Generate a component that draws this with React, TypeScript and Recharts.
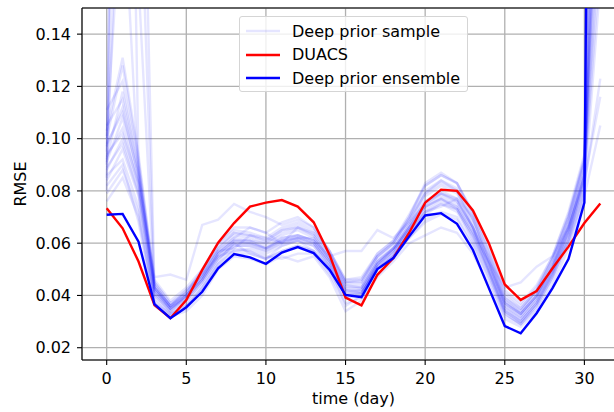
import { LineChart, Line, XAxis, YAxis, CartesianGrid, ReferenceLine } from "recharts";

const days = [0, 1, 2, 3, 4, 5, 6, 7, 8, 9, 10, 11, 12, 13, 14, 15, 16, 17, 18, 19, 20, 21, 22, 23, 24, 25, 26, 27, 28, 29, 30, 31];

const duacs = [0.0734, 0.0657, 0.053, 0.0363, 0.0313, 0.0382, 0.0498, 0.0602, 0.0677, 0.074, 0.0755, 0.0765, 0.074, 0.068, 0.0555, 0.0392, 0.0362, 0.0479, 0.0543, 0.064, 0.0755, 0.0805, 0.08, 0.0725, 0.06, 0.0442, 0.0383, 0.0417, 0.0504, 0.0587, 0.0677, 0.0752];

const ensemble = [0.0709, 0.0712, 0.0606, 0.0367, 0.0313, 0.0355, 0.0414, 0.0504, 0.0558, 0.0546, 0.0521, 0.0564, 0.0585, 0.0562, 0.0498, 0.0402, 0.0393, 0.0501, 0.0543, 0.0626, 0.0706, 0.0715, 0.0674, 0.0574, 0.0428, 0.0283, 0.0255, 0.0332, 0.0428, 0.0539, 0.0755, 0.8];

// individual deep prior runs
const s1 = [0.092, 0.118, 0.088, 0.042, 0.035, 0.040, 0.047, 0.057, 0.058, 0.063, 0.062, 0.060, 0.066, 0.063, 0.054, 0.043, 0.043, 0.053, 0.058, 0.067, 0.076, 0.080, 0.077, 0.066, 0.052, 0.037, 0.033, 0.040, 0.051, 0.066, 0.086, 0.180];
const s2 = [0.103, 0.131, 0.094, 0.045, 0.037, 0.041, 0.049, 0.058, 0.063, 0.062, 0.060, 0.064, 0.066, 0.063, 0.055, 0.044, 0.044, 0.054, 0.059, 0.068, 0.079, 0.083, 0.080, 0.069, 0.054, 0.038, 0.034, 0.041, 0.052, 0.068, 0.090, 0.250];
const s3 = [0.084, 0.096, 0.078, 0.039, 0.033, 0.037, 0.044, 0.053, 0.060, 0.056, 0.054, 0.059, 0.061, 0.057, 0.050, 0.040, 0.040, 0.050, 0.055, 0.064, 0.072, 0.075, 0.072, 0.062, 0.049, 0.034, 0.030, 0.037, 0.048, 0.063, 0.082, 0.123];
const s4 = [0.080, 0.600, 0.300, 0.043, 0.036, 0.040, 0.047, 0.056, 0.061, 0.060, 0.058, 0.061, 0.062, 0.060, 0.053, 0.042, 0.041, 0.051, 0.057, 0.066, 0.074, 0.078, 0.075, 0.065, 0.051, 0.036, 0.032, 0.039, 0.050, 0.065, 0.087, 0.400];
const s5 = [0.111, 0.122, 0.090, 0.044, 0.036, 0.042, 0.048, 0.059, 0.064, 0.063, 0.061, 0.065, 0.067, 0.064, 0.056, 0.045, 0.045, 0.055, 0.060, 0.069, 0.079, 0.084, 0.080, 0.066, 0.055, 0.039, 0.035, 0.042, 0.054, 0.070, 0.093, 0.300];
const s6 = [0.098, 0.110, 0.086, 0.047, 0.048, 0.046, 0.067, 0.069, 0.075, 0.072, 0.070, 0.067, 0.069, 0.066, 0.057, 0.046, 0.047, 0.056, 0.061, 0.070, 0.083, 0.087, 0.083, 0.071, 0.057, 0.042, 0.037, 0.044, 0.055, 0.072, 0.094, 0.220];
const s7 = [0.076, 0.085, 0.070, 0.037, 0.032, 0.035, 0.043, 0.052, 0.058, 0.057, 0.055, 0.054, 0.056, 0.056, 0.048, 0.037, 0.039, 0.048, 0.054, 0.062, 0.068, 0.071, 0.069, 0.059, 0.046, 0.032, 0.029, 0.035, 0.046, 0.060, 0.078, 0.105];
const s8 = [0.093, 0.104, 0.082, 0.041, 0.035, 0.039, 0.046, 0.055, 0.060, 0.060, 0.058, 0.061, 0.063, 0.061, 0.055, 0.057, 0.057, 0.065, 0.062, 0.068, 0.075, 0.079, 0.076, 0.066, 0.052, 0.037, 0.033, 0.040, 0.051, 0.066, 0.085, 0.170];
const s9 = [0.088, 0.100, 0.080, 0.040, 0.034, 0.038, 0.045, 0.054, 0.059, 0.059, 0.057, 0.060, 0.062, 0.060, 0.052, 0.041, 0.042, 0.051, 0.056, 0.065, 0.073, 0.077, 0.074, 0.064, 0.053, 0.043, 0.045, 0.051, 0.055, 0.066, 0.084, 0.116];
const s10 = [0.095, 0.450, 0.090, 0.043, 0.035, 0.040, 0.046, 0.056, 0.061, 0.061, 0.059, 0.062, 0.063, 0.061, 0.053, 0.042, 0.042, 0.052, 0.057, 0.066, 0.075, 0.079, 0.076, 0.066, 0.052, 0.036, 0.032, 0.039, 0.050, 0.065, 0.086, 0.500];
const s11 = [0.100, 0.128, 0.092, 0.046, 0.038, 0.043, 0.050, 0.060, 0.065, 0.064, 0.062, 0.066, 0.068, 0.065, 0.057, 0.046, 0.046, 0.056, 0.061, 0.071, 0.082, 0.086, 0.083, 0.072, 0.058, 0.041, 0.036, 0.043, 0.055, 0.071, 0.092, 0.210];
const s12 = [0.086, 0.092, 0.074, 0.038, 0.033, 0.036, 0.043, 0.052, 0.057, 0.057, 0.054, 0.057, 0.059, 0.057, 0.049, 0.039, 0.040, 0.052, 0.058, 0.066, 0.074, 0.077, 0.073, 0.061, 0.048, 0.033, 0.029, 0.036, 0.047, 0.061, 0.080, 0.160];
const s13 = [0.090, 0.350, 0.220, 0.042, 0.035, 0.039, 0.046, 0.055, 0.060, 0.060, 0.058, 0.061, 0.062, 0.060, 0.052, 0.041, 0.041, 0.051, 0.056, 0.065, 0.074, 0.077, 0.074, 0.064, 0.050, 0.035, 0.031, 0.038, 0.049, 0.064, 0.084, 0.350];
const s14 = [0.105, 0.115, 0.087, 0.044, 0.036, 0.041, 0.048, 0.057, 0.062, 0.066, 0.064, 0.060, 0.062, 0.062, 0.054, 0.044, 0.043, 0.053, 0.058, 0.067, 0.078, 0.082, 0.079, 0.068, 0.053, 0.038, 0.033, 0.040, 0.052, 0.067, 0.088, 0.190];
const s15 = [0.082, 0.090, 0.068, 0.036, 0.032, 0.034, 0.040, 0.050, 0.055, 0.054, 0.052, 0.055, 0.053, 0.055, 0.047, 0.034, 0.038, 0.047, 0.053, 0.060, 0.063, 0.066, 0.064, 0.056, 0.044, 0.031, 0.028, 0.034, 0.044, 0.058, 0.077, 0.280];
const s16 = [0.085, 0.250, 0.160, 0.041, 0.034, 0.038, 0.045, 0.054, 0.059, 0.059, 0.057, 0.060, 0.061, 0.059, 0.051, 0.040, 0.041, 0.050, 0.055, 0.064, 0.072, 0.076, 0.073, 0.063, 0.050, 0.035, 0.031, 0.038, 0.049, 0.064, 0.083, 0.450];
const s17 = [0.097, 0.112, 0.085, 0.043, 0.036, 0.040, 0.047, 0.057, 0.062, 0.061, 0.060, 0.063, 0.065, 0.062, 0.054, 0.043, 0.043, 0.053, 0.058, 0.065, 0.072, 0.074, 0.077, 0.070, 0.053, 0.037, 0.033, 0.040, 0.051, 0.067, 0.088, 0.200];
const s18 = [0.079, 0.088, 0.072, 0.037, 0.033, 0.036, 0.042, 0.051, 0.056, 0.056, 0.054, 0.057, 0.059, 0.057, 0.051, 0.036, 0.040, 0.052, 0.058, 0.062, 0.069, 0.072, 0.070, 0.060, 0.047, 0.033, 0.029, 0.036, 0.047, 0.061, 0.079, 0.240];
const s19 = [0.101, 0.200, 0.085, 0.045, 0.037, 0.042, 0.049, 0.058, 0.064, 0.063, 0.061, 0.065, 0.066, 0.064, 0.056, 0.045, 0.045, 0.055, 0.060, 0.069, 0.080, 0.084, 0.081, 0.069, 0.055, 0.039, 0.034, 0.042, 0.053, 0.069, 0.091, 0.600];
const s20 = [0.091, 0.108, 0.083, 0.042, 0.035, 0.039, 0.046, 0.056, 0.061, 0.061, 0.058, 0.062, 0.063, 0.061, 0.053, 0.042, 0.042, 0.052, 0.057, 0.066, 0.076, 0.079, 0.077, 0.066, 0.049, 0.034, 0.030, 0.037, 0.049, 0.061, 0.086, 0.260];
const s21 = [0.094, 0.102, 0.083, 0.043, 0.036, 0.041, 0.050, 0.060, 0.066, 0.066, 0.064, 0.068, 0.070, 0.066, 0.057, 0.045, 0.046, 0.055, 0.060, 0.070, 0.082, 0.086, 0.083, 0.071, 0.056, 0.040, 0.035, 0.042, 0.054, 0.070, 0.091, 0.230];
const s22 = [0.089, 0.098, 0.079, 0.040, 0.034, 0.040, 0.048, 0.055, 0.057, 0.058, 0.056, 0.059, 0.061, 0.059, 0.051, 0.040, 0.041, 0.050, 0.055, 0.064, 0.071, 0.075, 0.073, 0.063, 0.049, 0.034, 0.030, 0.037, 0.048, 0.063, 0.081, 0.330];

const samples = [s1, s2, s3, s4, s5, s6, s7, s8, s9, s10, s11, s12, s13, s14, s15, s16, s17, s18, s19, s20, s21, s22];

const xTicks = [0, 5, 10, 15, 20, 25, 30];
const yTicks = [0.02, 0.04, 0.06, 0.08, 0.1, 0.12, 0.14];

const FONT = "'DejaVu Sans', sans-serif";

const data = days.map((d, i) => {
  const row: Record<string, number> = { day: d, duacs: duacs[i], ensemble: ensemble[i] };
  samples.forEach((s, k) => {
    row[`s${k}`] = s[i];
  });
  return row;
});

const tickStyle = { fontSize: 16, fill: "#000", fontFamily: FONT };

function LegendBox() {
  const rows = [
    { label: "Deep prior sample", color: "#0000ff", opacity: 0.1 },
    { label: "DUACS", color: "#ff0000", opacity: 1 },
    { label: "Deep prior ensemble", color: "#0000ff", opacity: 1 },
  ];
  return (
    <div
      style={{
        position: "absolute",
        left: 239,
        top: 16,
        width: 227,
        height: 74,
        border: "1px solid #d5d5d5",
        borderRadius: 3,
        background: "rgba(255,255,255,0.8)",
        fontFamily: FONT,
        fontSize: 16,
        color: "#000",
      }}
    >
      {rows.map((r, i) => (
        <div
          key={r.label}
          style={{ position: "absolute", left: 0, top: 3 + i * 23.5, height: 22, display: "flex", alignItems: "center" }}
        >
          <svg width={52} height={22}>
            <line x1={6} x2={40} y1={11} y2={11} stroke={r.color} strokeOpacity={r.opacity} strokeWidth={2.4} />
          </svg>
          <span style={{ whiteSpace: "nowrap" }}>{r.label}</span>
        </div>
      ))}
    </div>
  );
}

export default function App() {
  return (
    <div style={{ position: "absolute", left: 0, top: 0, width: 614, height: 412, overflow: "hidden", background: "#fff" }}>
      <LineChart width={640} height={412} data={data} margin={{ top: 8, right: 15, bottom: 0, left: 0 }}>
        <CartesianGrid stroke="#b0b0b0" strokeWidth={1.3} />
        <XAxis
          dataKey="day"
          type="number"
          domain={[-1.55, 32.55]}
          allowDataOverflow
          ticks={xTicks}
          height={52}
          tick={tickStyle}
          tickSize={5}
          tickMargin={8}
          stroke="#000"
          axisLine={{ stroke: "#000", strokeWidth: 1.1 }}
          tickLine={{ stroke: "#000", strokeWidth: 1.1 }}
          label={{ value: "time (day)", position: "insideBottom", offset: 8, fontSize: 16, fill: "#000", fontFamily: FONT }}
        />
        <YAxis
          type="number"
          domain={[0.0153, 0.15]}
          allowDataOverflow
          ticks={yTicks}
          width={82}
          tick={tickStyle}
          tickSize={5}
          tickMargin={6}
          tickFormatter={(v: number) => v.toFixed(2)}
          axisLine={{ stroke: "#000", strokeWidth: 1.1 }}
          tickLine={{ stroke: "#000", strokeWidth: 1.1 }}
          label={{ value: "RMSE", angle: -90, position: "center", dx: -21, fontSize: 16, fill: "#000", fontFamily: FONT }}
        />
        <ReferenceLine y={0.15} stroke="#000" strokeWidth={1.1} />
        {samples.map((_, k) => (
          <Line
            key={k}
            dataKey={`s${k}`}
            stroke="#0000ff"
            strokeOpacity={0.1}
            strokeWidth={2.4}
            dot={false}
            isAnimationActive={false}
          />
        ))}
        <Line dataKey="duacs" stroke="#ff0000" strokeWidth={2.4} dot={false} isAnimationActive={false} />
        <Line dataKey="ensemble" stroke="#0000ff" strokeWidth={2.4} dot={false} isAnimationActive={false} />
      </LineChart>
      <LegendBox />
    </div>
  );
}
